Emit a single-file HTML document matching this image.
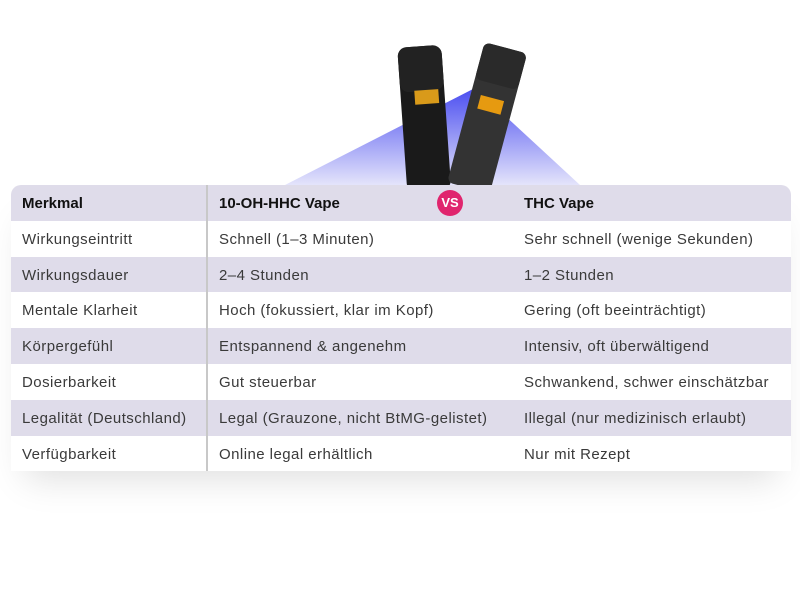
<!DOCTYPE html>
<html><head><style>
body{margin:0;width:800px;height:600px;background:#fff;font-family:"Liberation Sans",sans-serif;position:relative;overflow:hidden}
.tbl{position:absolute;left:11px;top:185px;width:780px;border-radius:10px 10px 0 0;overflow:hidden;box-shadow:0 22px 34px -14px rgba(0,0,0,0.13)}
.r{height:35.8px;position:relative;font-size:15px;color:#3a3a3a;letter-spacing:0.45px}
.r:nth-child(odd){background:#dfdcea}
.r:nth-child(even){background:#fff}
.r span{position:absolute;top:10px}
.c1{left:11px}.c2{left:208px}.c3{left:513px}
.h{font-weight:bold;color:#111;letter-spacing:0}
.div{position:absolute;left:206px;top:185px;width:2px;height:286px;background:#c8c8c8}
.vs{position:absolute;left:437px;top:190px;width:26px;height:26px;border-radius:50%;background:#e0256e;color:#fff;font-weight:bold;font-size:13px;text-align:center;line-height:26px}
</style></head><body>
<svg width="800" height="200" style="position:absolute;left:0;top:0">
<defs><linearGradient id="g" x1="0" y1="0" x2="0" y2="1"><stop offset="0" stop-color="#4a4df0"/><stop offset="1" stop-color="#e4e4fb"/></linearGradient></defs>
<polygon points="475,88 580,185 285,185" fill="url(#g)"/>
<g transform="rotate(-4 426 115)"><rect x="402" y="46" width="44" height="145" rx="9" fill="#1a1a1a"/><rect x="402" y="46" width="44" height="45" rx="9" fill="#222"/><rect x="416" y="90" width="24" height="14" fill="#d99a1a"/></g>
<g transform="rotate(15 490 115)"><rect x="466" y="46" width="44" height="145" rx="6" fill="#333"/><rect x="466" y="46" width="44" height="38" rx="6" fill="#2a2a2a"/><rect x="476" y="98" width="24" height="14" fill="#e69a10"/></g>
</svg>
<div class="tbl">
<div class="r h"><span class="c1">Merkmal</span><span class="c2">10-OH-HHC Vape</span><span class="c3">THC Vape</span></div>
<div class="r"><span class="c1">Wirkungseintritt</span><span class="c2">Schnell (1–3 Minuten)</span><span class="c3">Sehr schnell (wenige Sekunden)</span></div>
<div class="r"><span class="c1">Wirkungsdauer</span><span class="c2">2–4 Stunden</span><span class="c3">1–2 Stunden</span></div>
<div class="r"><span class="c1">Mentale Klarheit</span><span class="c2">Hoch (fokussiert, klar im Kopf)</span><span class="c3">Gering (oft beeinträchtigt)</span></div>
<div class="r"><span class="c1">Körpergefühl</span><span class="c2">Entspannend &amp; angenehm</span><span class="c3">Intensiv, oft überwältigend</span></div>
<div class="r"><span class="c1">Dosierbarkeit</span><span class="c2">Gut steuerbar</span><span class="c3">Schwankend, schwer einschätzbar</span></div>
<div class="r"><span class="c1">Legalität (Deutschland)</span><span class="c2">Legal (Grauzone, nicht BtMG-gelistet)</span><span class="c3">Illegal (nur medizinisch erlaubt)</span></div>
<div class="r"><span class="c1">Verfügbarkeit</span><span class="c2">Online legal erhältlich</span><span class="c3">Nur mit Rezept</span></div>
</div>
<div class="div"></div>
<div class="vs">VS</div>
</body></html>
